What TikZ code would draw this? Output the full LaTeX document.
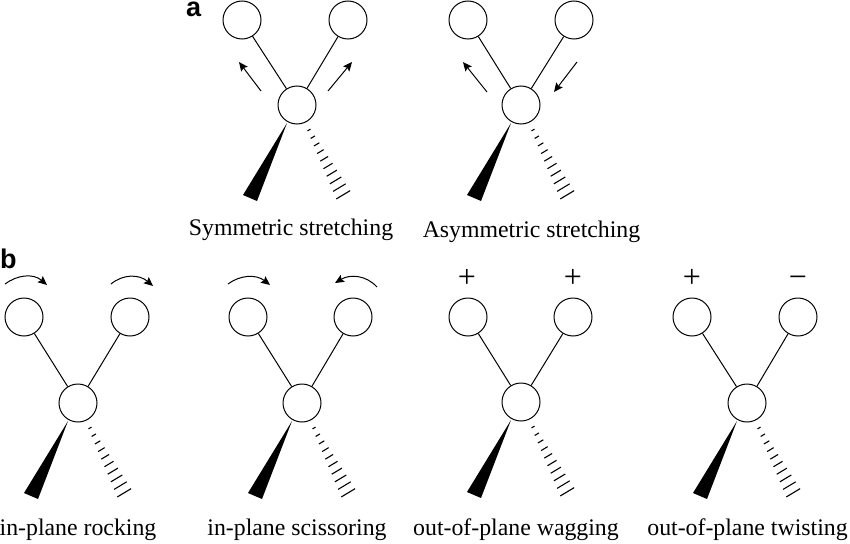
\documentclass[tikz,border=0pt]{standalone}
\usepackage{fontspec}
\setmainfont{Liberation Serif}
\newfontfamily\boldsans{Liberation Sans}
\usetikzlibrary{arrows.meta,calc}
\tikzset{
  atom/.style={circle,draw=black,line width=1pt,minimum size=38pt,inner sep=0pt,fill=white},
  bond/.style={draw=black,line width=1pt},
  wedge/.style={fill=black,draw=none},
  hash/.style={draw=black,line width=1.1pt},
  motion/.style={draw=black,line width=1pt,-{Stealth[length=9pt,width=8pt,inset=1.5pt]}},
  caption/.style={font=\fontsize{23.8}{26}\selectfont,anchor=base,inner sep=0pt},
  sign/.style={font=\fontsize{32}{34}\selectfont,anchor=base,inner sep=0pt},
  panel/.style={font=\boldsans\bfseries\fontsize{27}{30}\selectfont,anchor=base west,inner sep=0pt}
}
% #1 prefix, #2 left x, #3 right x, #4 top y, #5 centre x, #6 centre y
\newcommand{\molecule}[6]{
  \node[atom] (#1L) at (#2,#4) {};
  \node[atom] (#1R) at (#3,#4) {};
  \node[atom] (#1C) at (#5,#6) {};
  \draw[bond] (#1L) -- (#1C);
  \draw[bond] (#1R) -- (#1C);
  \begin{scope}[shift={(#5,#6)}]
    \fill[wedge] (-10,18) -- (-54,90) -- (-40,96) -- cycle;
    \foreach \t in {0,1,...,9}{
      \pgfmathsetmacro{\mx}{12+\t*3.8}
      \pgfmathsetmacro{\my}{25+\t*7.2}
      \pgfmathsetmacro{\hw}{1.5+\t*0.6}
      \draw[hash] (\mx-\hw,\my+\hw*0.6) -- (\mx+\hw,\my-\hw*0.6);
    }
  \end{scope}
}
\begin{document}
\begin{tikzpicture}[x=1pt,y=-1pt]
\useasboundingbox (0,0) rectangle (850,543);
\molecule{a}{242}{348}{20}{297}{105}
\molecule{b}{468}{574}{20}{521}{105}
\molecule{c}{24}{130}{317}{78}{403}
\molecule{d}{248}{353}{317}{302}{403}
\molecule{e}{468}{573}{317}{521}{402}
\molecule{f}{692}{798}{317}{747}{403}
\node[panel] (pa) at (186,17) {a};
\node[panel] (pb) at (0,268) {b};
\coordinate (a1s) at (261,91); \coordinate (a1e) at (239,62);
\coordinate (a2s) at (328,91); \coordinate (a2e) at (352,62);
\draw[motion] (a1s) -- (a1e);
\draw[motion] (a2s) -- (a2e);
\coordinate (b1s) at (487,92); \coordinate (b1e) at (463,62);
\coordinate (b2s) at (577,62); \coordinate (b2e) at (554,92);
\draw[motion] (b1s) -- (b1e);
\draw[motion] (b2s) -- (b2e);
\coordinate (c1s) at (5,284); \coordinate (c1e) at (47,285);
\coordinate (c2s) at (111,284); \coordinate (c2e) at (153,286);
\coordinate (d1s) at (228,284); \coordinate (d1e) at (270,285);
\coordinate (d2s) at (377,287); \coordinate (d2e) at (335,283);
\draw[motion] (c1s) .. controls (17,275) and (33,273) .. (c1e);
\draw[motion] (c2s) .. controls (123,274) and (139,274) .. (c2e);
\draw[motion] (d1s) .. controls (240,275) and (256,274) .. (d1e);
\draw[motion] (d2s) .. controls (366,275) and (350,274) .. (d2e);
\node[sign] (s1) at (467,287.5) {+};
\node[sign] (s2) at (573,287.5) {+};
\node[sign] (s3) at (692,287.5) {+};
\node[sign] (s4) at (798,287) {\textminus};
\node[caption] (t1) at (291,235) {Symmetric stretching};
\node[caption] (t2) at (531.5,237) {Asymmetric stretching};
\node[caption] (t3) at (78,535) {in-plane rocking};
\node[caption] (t4) at (297,535) {in-plane scissoring};
\node[caption] (t5) at (516,535) {out-of-plane wagging};
\node[caption] (t6) at (747.5,535) {out-of-plane twisting};
\end{tikzpicture}
\end{document}
